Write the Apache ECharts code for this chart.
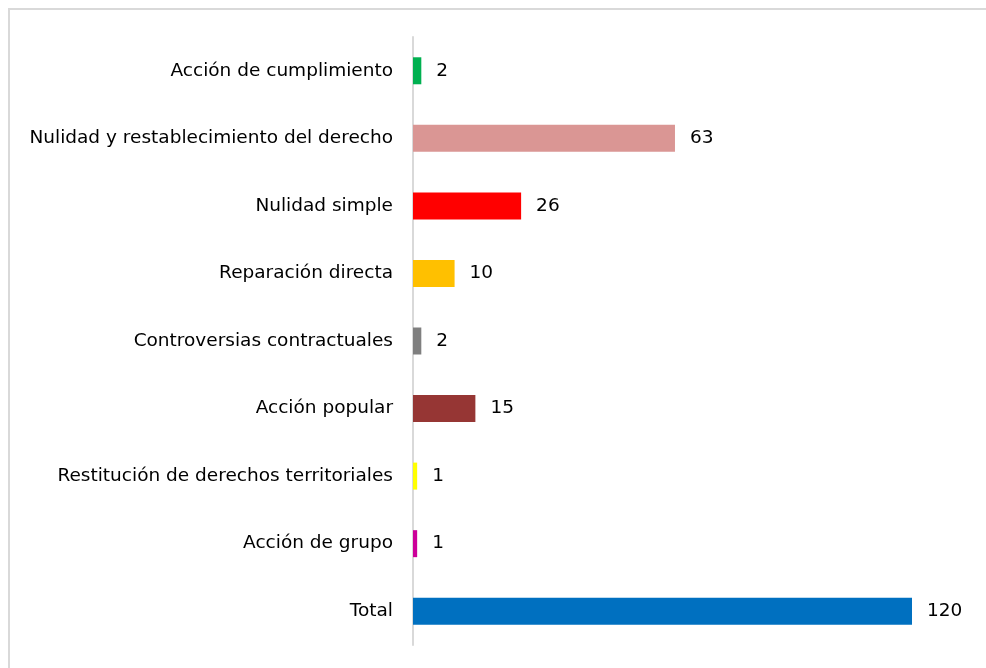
<!DOCTYPE html>
<html>
<head>
<meta charset="utf-8">
<script src="https://cdn.jsdelivr.net/npm/echarts@6/dist/echarts.min.js"></script>
<style>
  html, body { margin: 0; padding: 0; background: #fff; }
  #frame {
    position: absolute; left: 8px; top: 8px; width: 990px; height: 670px;
    border-top: 2px solid #d9d9d9; border-left: 2px solid #d9d9d9;
  }
  #chart { position: absolute; left: 0; top: 0; width: 986px; height: 668px; }
</style>
</head>
<body>
<div id="frame"></div>
<div id="chart"></div>
<script>
const categories = [
  "Acción de cumplimiento",
  "Nulidad y restablecimiento del derecho",
  "Nulidad simple",
  "Reparación directa",
  "Controversias contractuales",
  "Acción popular",
  "Restitución de derechos territoriales",
  "Acción de grupo",
  "Total"
];
const values = [2, 63, 26, 10, 2, 15, 1, 1, 120];
const colors = ["#00b050", "#da9694", "#ff0000", "#ffc000", "#7f7f7f", "#963634", "#ffff00", "#cc0099", "#0070c0"];

const font = "DejaVu Sans";
const chart = echarts.init(document.getElementById("chart"));

chart.setOption({
  animation: false,
  grid: {
    left: 413,
    right: 74,
    top: 37,
    bottom: 23
  },
  xAxis: {
    type: "value",
    min: 0,
    max: 120,
    show: false
  },
  yAxis: {
    type: "category",
    inverse: true,
    data: categories,
    offset: 1,
    axisLine: { lineStyle: { color: "#d9d9d9", width: 2 } },
    axisTick: { show: false },
    axisLabel: {
      margin: 19,
      color: "#000",
      fontFamily: font,
      fontSize: 18.5
    }
  },
  series: [
    {
      type: "bar",
      barWidth: 27,
      data: values.map((v, i) => ({ value: v, itemStyle: { color: colors[i] } })),
      label: {
        show: true,
        position: "right",
        distance: 15,
        color: "#000",
        fontFamily: font,
        fontSize: 18.5
      }
    }
  ]
});
</script>
</body>
</html>
